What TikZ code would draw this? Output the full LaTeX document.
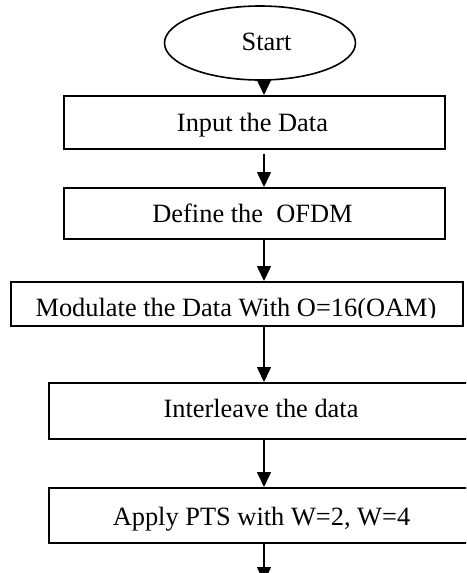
\documentclass[tikz,border=0pt]{standalone}
\usepackage{fontspec}
\setmainfont{Liberation Serif}
\usetikzlibrary{shapes.geometric,arrows.meta}
\begin{document}
\begin{tikzpicture}[x=1pt,y=1pt,
 box/.style={draw, line width=1.6pt, inner sep=0pt, anchor=north west},
 oval/.style={draw, ellipse, line width=1.6pt, inner sep=0pt},
 txt/.style={font=\fontsize{26.4}{30}\selectfont, inner sep=0pt, anchor=base},
 arr/.style={line width=1.6pt, -{Triangle[width=14pt,length=15pt]}}]
\clip (0,0) rectangle (466,-573);
\fill[white] (0,0) rectangle (466,-573);
\coordinate (ax) at (264,0);
% shapes
\node[oval, minimum width=191pt, minimum height=74pt] (s) at (260,-43) {};
\node[box, minimum width=381pt, minimum height=53pt] (b1) at (63,-95) {};
\node[box, minimum width=381pt, minimum height=51pt] (b2) at (63,-187) {};
\node[box, minimum width=452pt, minimum height=44pt] (b3) at (10,-281) {};
\node[box, minimum width=426pt, minimum height=56pt] (b4) at (48,-382) {};
\node[box, minimum width=426pt, minimum height=55pt] (b5) at (48,-487) {};
% texts
\node[txt] (t0) at (266.5,-50) {Start};
\node[txt] (t1) at (252.5,-131) {Input the Data};
\node[txt] (t2) at (252.5,-222) {Define the\ \ OFDM};
\begin{scope}
\clip (0,-270) rectangle (466,-317.5);
\node[txt] (t3) at (236,-316) {Modulate the Data With O=16(OAM)};
\end{scope}
\node[txt] (t4) at (261,-417) {Interleave the data};
\node[txt] (t5) at (261.5,-525) {Apply PTS with W=2, W=4};
% connectors
\coordinate (end) at (264,-582);
\draw[arr] (s.south -| ax) -- (b1.north -| ax);
\draw[arr, shorten <=4pt] (b1.south -| ax) -- (b2.north -| ax);
\draw[arr] (b2.south -| ax) -- (b3.north -| ax);
\draw[arr] (b3.south -| ax) -- (b4.north -| ax);
\draw[arr] (b4.south -| ax) -- (b5.north -| ax);
\draw[arr] (b5.south -| ax) -- (end);
\end{tikzpicture}
\end{document}
